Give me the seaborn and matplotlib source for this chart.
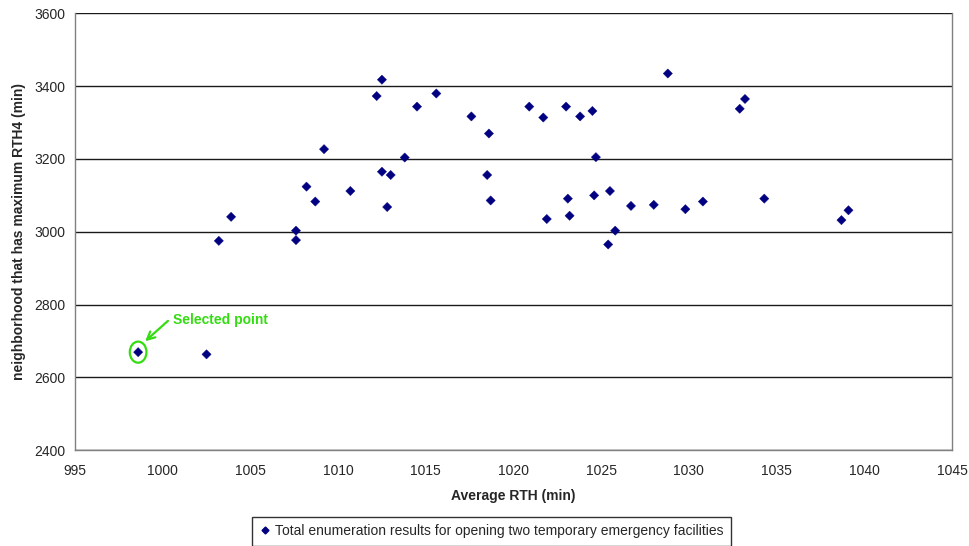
import matplotlib
matplotlib.use("Agg")
import matplotlib.pyplot as plt
from matplotlib.patches import Ellipse
import pandas as pd
import seaborn as sns

# values
avg_rth = [998.6, 1002.5, 1003.2, 1003.9, 1007.6, 1007.6, 1008.2, 1008.7, 1009.2,
           1010.7, 1012.2, 1012.5, 1012.5, 1013.0, 1012.8, 1013.8, 1014.5, 1015.6,
           1017.6, 1018.6, 1018.5, 1018.7, 1020.9, 1021.7, 1021.9, 1023.0, 1023.1,
           1023.2, 1023.8, 1024.5, 1024.7, 1024.6, 1025.5, 1025.4, 1025.8, 1026.7,
           1028.0, 1028.8, 1029.8, 1030.8, 1032.9, 1033.2, 1034.3, 1038.7, 1039.1]
max_rth4 = [2669, 2663, 2975, 3041, 3003, 2977, 3124, 3083, 3227,
            3112, 3373, 3418, 3165, 3156, 3068, 3204, 3344, 3380,
            3317, 3270, 3156, 3086, 3344, 3314, 3035, 3344, 3091,
            3044, 3317, 3332, 3205, 3100, 3112, 2965, 3003, 3071,
            3074, 3435, 3062, 3083, 3338, 3365, 3091, 3032, 3059]
series_name = "Total enumeration results for opening two temporary emergency facilities"
selected = (998.6, 2669)

df = pd.DataFrame({"Average RTH (min)": avg_rth, "RTH4": max_rth4, "series": series_name})

sns.set_style("white")
plt.rcParams["font.family"] = ["Liberation Sans", "DejaVu Sans"]

fig = plt.figure(figsize=(9.69, 5.46), dpi=100)
ax = fig.add_axes([0.0774, 0.1758, 0.905, 0.7995])

sns.scatterplot(data=df, x="Average RTH (min)", y="RTH4", hue="series",
                palette=["#000080"], marker="D", s=22, edgecolor="#000080",
                linewidth=0.3, ax=ax, legend=False, zorder=3)

ax.set_xlim(995, 1045)
ax.set_ylim(2400, 3600)
ax.set_xticks(range(995, 1046, 5))
ax.set_yticks(range(2400, 3601, 200))
ax.yaxis.grid(True, color="#1a1a1a", linewidth=1.0)
ax.set_axisbelow(True)
for side in ["left", "bottom", "right"]:
    ax.spines[side].set_color("#808080")
    ax.spines[side].set_linewidth(1.0)
ax.spines["top"].set_visible(False)
ax.tick_params(axis="both", direction="out", length=4, width=1, color="#808080",
               labelsize=10, pad=3)
ax.tick_params(axis="x", pad=6)

ax.set_xlabel("Average RTH (min)", fontsize=10, fontweight="bold", labelpad=8)
ax.set_ylabel("neighborhood that has maximum RTH4 (min)", fontsize=10,
              fontweight="bold", labelpad=6)

# highlight of the selected point
ax.add_patch(Ellipse(selected, width=0.95, height=58, fill=False,
                     edgecolor="#33dd11", linewidth=1.6, zorder=4))
ax.annotate("", xy=(999.0, 2699), xytext=(1000.3, 2755),
            arrowprops=dict(arrowstyle="->", color="#33dd11", lw=1.6,
                            shrinkA=0, shrinkB=0, mutation_scale=14))
ax.text(1000.6, 2758, "Selected point", color="#33dd11", fontsize=10,
        fontweight="bold", va="center", ha="left")

handle = plt.Line2D([], [], marker="D", color="#000080", linestyle="none",
                    markersize=3.5)
leg = fig.legend([handle], [series_name], loc="lower center",
                 bbox_to_anchor=(0.507, -0.005), frameon=True, fancybox=False,
                 fontsize=10, handlelength=0.8, handletextpad=0.3,
                 borderpad=0.55, borderaxespad=0.2)
leg.get_frame().set_edgecolor("#000000")
leg.get_frame().set_linewidth(1.0)

fig.savefig("out.png", dpi=100)
